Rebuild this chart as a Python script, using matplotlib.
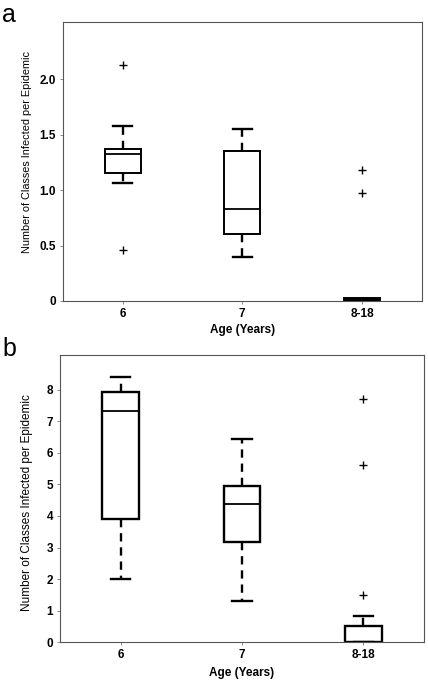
import matplotlib
matplotlib.use("Agg")
import matplotlib.pyplot as plt

plt.rcParams['font.family'] = ['Liberation Sans', 'DejaVu Sans']

categories = ["6", "7", "8-18"]

# Panel a: box statistics
a_med = [1.327, 0.828, 0.0]
a_q1 = [1.152, 0.60, 0.0]
a_q3 = [1.375, 1.357, 0.03]
a_lo = [1.065, 0.397, 0.0]
a_hi = [1.579, 1.55, 0.0]
a_fliers = [[2.13, 0.46], [], [1.185, 0.977]]
a_yticks = [0, 0.5, 1.0, 1.5, 2.0]
a_yticklabels = ["0", "0.5", "1.0", "1.5", "2.0"]

# Panel b: box statistics
b_med = [7.33, 4.37, 0.0]
b_q1 = [3.92, 3.19, 0.0]
b_q3 = [7.92, 4.96, 0.51]
b_lo = [1.99, 1.30, 0.0]
b_hi = [8.40, 6.43, 0.83]
b_fliers = [[], [], [1.49, 5.63, 7.72]]
b_yticks = [0, 1, 2, 3, 4, 5, 6, 7, 8]
b_yticklabels = [str(v) for v in b_yticks]

ylabel = "Number of Classes Infected per Epidemic"
xlabel = "Age (Years)"


def make_stats(med, q1, q3, lo, hi, fl):
    out = []
    for i in range(len(med)):
        out.append(dict(med=med[i], q1=q1[i], q3=q3[i], whislo=lo[i],
                        whishi=hi[i], fliers=fl[i], label=categories[i]))
    return out


fig = plt.figure(figsize=(4.28, 6.84), dpi=100)
ax_a = fig.add_axes([0.1465, 0.560, 0.839, 0.4074])
ax_b = fig.add_axes([0.140, 0.061, 0.851, 0.420])

configs = [
    (ax_a, make_stats(a_med, a_q1, a_q3, a_lo, a_hi, a_fliers), (0, 2.515),
     a_yticks, a_yticklabels, 1.4, 7.8, (-0.0855, 0.535), 3, ['white', 'white', 'black']),
    (ax_b, make_stats(b_med, b_q1, b_q3, b_lo, b_hi, b_fliers), (0, 9.1),
     b_yticks, b_yticklabels, 1.7, 8.5, (-0.074, 0.488), 4, ['white', 'white', 'white']),
]

for ax, stats, ylim, yt, ytl, lw, yfs, ycoords, xpad, faces in configs:
    res = ax.bxp(stats, positions=[1, 2, 3], widths=0.30, showfliers=True,
                 patch_artist=True,
                 boxprops=dict(edgecolor='black', linewidth=lw),
                 medianprops=dict(color='black', linewidth=1.3),
                 whiskerprops=dict(color='black', linewidth=1.7, linestyle=(0, (3.5, 2.5))),
                 capprops=dict(color='black', linewidth=1.7),
                 capwidths=0.16,
                 flierprops=dict(marker='+', markeredgecolor='black', markersize=6,
                                 markeredgewidth=1.0, linestyle='none'))
    for patch, fc in zip(res['boxes'], faces):
        patch.set_facecolor(fc)
    ax.set_xlim(0.5, 3.5)
    ax.set_ylim(*ylim)
    ax.set_yticks(yt)
    ax.set_yticklabels(ytl, fontsize=8.5, fontweight='bold')
    ax.set_xticks([1, 2, 3])
    ax.set_xticklabels(categories, fontsize=8.5, fontweight='bold')
    ax.tick_params(direction='out', length=2, width=0.6, color='#777777', pad=3)
    for s in ax.spines.values():
        s.set_color('#555555')
        s.set_linewidth(0.8)
    ax.set_ylabel(ylabel, fontsize=yfs)
    ax.yaxis.set_label_coords(*ycoords)
    ax.set_xlabel(xlabel, fontsize=8.5, fontweight='bold', labelpad=xpad)

fig.text(0.005, 0.995, "a", fontsize=18, va='top', ha='left')
fig.text(0.005, 0.508, "b", fontsize=18, va='top', ha='left')

fig.savefig("out.png", dpi=100)
